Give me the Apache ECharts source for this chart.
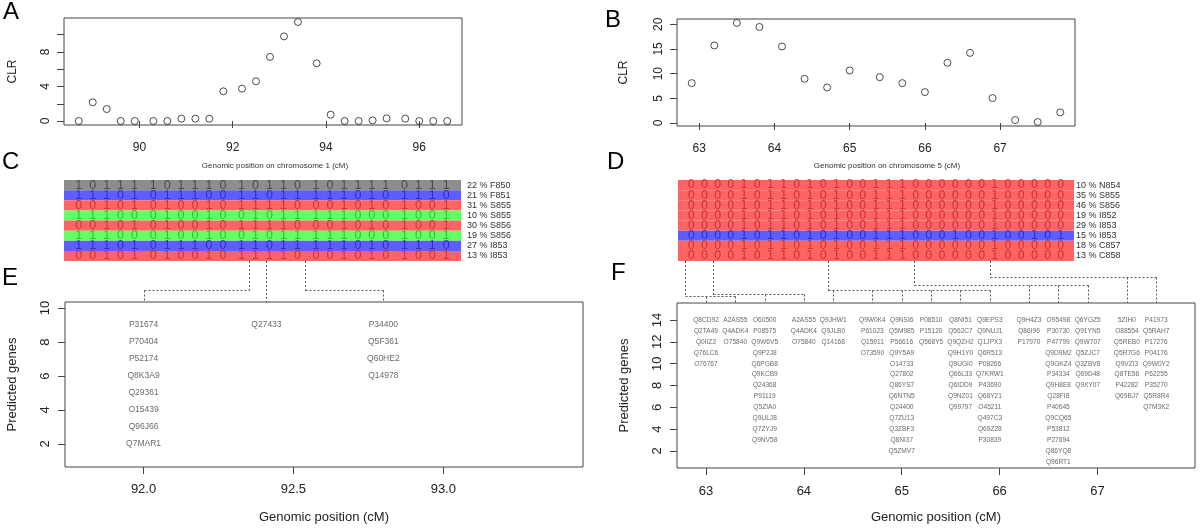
<!DOCTYPE html>
<html>
<head>
<meta charset="utf-8">
<script src="https://cdn.jsdelivr.net/npm/echarts@6/dist/echarts.min.js"></script>
<style>
html,body{margin:0;padding:0;background:#fff;}
#c{width:1200px;height:528px;}
</style>
</head>
<body>
<div id="c"></div>
<script>
// ---------------- data ----------------
const A_POS = [88.7, 89.0, 89.3, 89.6, 89.9, 90.3, 90.6, 90.9, 91.2, 91.5, 91.8, 92.2, 92.5, 92.8, 93.1, 93.4, 93.8, 94.1, 94.4, 94.7, 95.0, 95.3, 95.7, 96.0, 96.3, 96.6];
const A_CLR = [0, 2.17, 1.39, 0, 0, 0, 0, 0.27, 0.27, 0.27, 3.44, 3.75, 4.6, 7.42, 9.8, 11.47, 6.68, 0.73, 0, 0, 0.08, 0.31, 0.27, 0, 0, 0];
const A_XTICKS = [90, 92, 94, 96];
const A_YTICKS = [0, 2, 4, 6, 8, 10];
const A_YLABELS = [0, 4, 8];
const A_TITLE = 'Genomic position on chromosome 1 (cM)';

const B_POS = [62.9, 63.2, 63.5, 63.8, 64.1, 64.4, 64.7, 65.0, 65.4, 65.7, 66.0, 66.3, 66.6, 66.9, 67.2, 67.5, 67.8];
const B_CLR = [8.08, 15.7, 20.26, 19.45, 15.5, 8.95, 7.2, 10.64, 9.29, 8.08, 6.26, 12.2, 14.2, 5.05, 0.6, 0.2, 2.16];
const B_XTICKS = [63, 64, 65, 66, 67];
const B_YTICKS = [0, 5, 10, 15, 20];
const B_TITLE = 'Genomic position on chromosome 5 (cM)';

const C_ROWS = [
  '10111101110101101011110111',
  '11101011100110111110101110',
  '00101010010111100010101001',
  '11100010010010111110001001',
  '00101010010111100010101001',
  '11100010010010111110001001',
  '11101011100110111110101110',
  '00101010010111100010101001'
];
const C_LABELS = ['22 % F850', '21 % F851', '31 % S855', '10 % S855', '30 % S856', '19 % S856', '27 % I853', '13 % I853'];
const C_KEYS = ['grey', 'blue', 'red', 'green', 'red', 'green', 'blue', 'red'];

const D_ROWS = [
  '00001011010100111000000100000',
  '00001011010100111000000100000',
  '00001011010100111000000100000',
  '00001011010100111000000100000',
  '00001011010100111000000100000',
  '00001011010100111000100100101',
  '00001011010100111000000100000',
  '00001011010100111000000100000'
];
const D_LABELS = ['10 % N854', '35 % S855', '46 % S856', '19 % I852', '29 % I853', '15 % I853', '18 % C857', '13 % C858'];
const D_KEYS = ['red', 'red', 'red', 'red', 'red', 'blue', 'red', 'red'];

const E_X = [92.0, 92.41, 92.8];
const E_GENES = [
  ['P31674', 'P70404', 'P52174', 'Q8K3A9', 'Q29361', 'O15439', 'Q96J66', 'Q7MAR1'],
  ['Q27433'],
  ['P34400', 'Q5F361', 'Q60HE2', 'Q14978']
];
const E_TOP = 9;
const E_XTICKS = [92.0, 92.5, 93.0];
const E_YTICKS = [2, 4, 6, 8, 10];

const F_X = [63.0, 63.3, 63.6, 64.0, 64.3, 64.7, 65.0, 65.3, 65.6, 65.9, 66.3, 66.6, 66.9, 67.3, 67.6];
const F_GENES = [
  ['Q8CD92', 'Q2TA49', 'Q0IIZ2', 'Q76LC6', 'O76767'],
  ['A2AS55', 'Q4ADK4', 'O75840'],
  ['O60500', 'P08575', 'Q9W6V5', 'Q9P2J8', 'Q6PGB8', 'Q9KCB9', 'Q24368', 'P91119', 'Q5ZIA0', 'Q9ULJ8', 'Q7ZYJ9', 'Q9NV58'],
  ['A2AS55', 'Q4ADK4', 'O75840'],
  ['Q9JHW1', 'Q9JLB0', 'Q14168'],
  ['Q9W0K4', 'P61023', 'Q15911', 'O73590'],
  ['Q9NSI6', 'Q5M985', 'P56616', 'Q9Y5A9', 'O14733', 'Q27802', 'Q86YS7', 'Q6NTN5', 'Q24400', 'Q7ZU13', 'Q3ZBF3', 'Q8NI37', 'Q5ZMV7'],
  ['P08510', 'P15120', 'Q568Y5'],
  ['Q8NI51', 'Q562C7', 'Q9QZH2', 'Q9H1Y0', 'Q9UGI0', 'Q66L33', 'Q6IDD9', 'Q9NZ01', 'Q99797'],
  ['Q9EPS3', 'Q9NUJ1', 'Q1JPX3', 'Q6R513', 'P08266', 'Q7KRW1', 'P43690', 'Q68Y21', 'O45211', 'Q497C3', 'Q69Z28', 'P30839'],
  ['Q9H4Z3', 'Q86I96', 'P17970'],
  ['O95498', 'P30730', 'P47799', 'Q9D9M2', 'Q9GKZ4', 'P34334', 'Q9H8E8', 'Q28FI8', 'P40645', 'Q9CQ65', 'P53812', 'P27694', 'Q86YQ8', 'Q96RT1'],
  ['Q6YGZ5', 'Q91YN5', 'Q9W707', 'Q5ZJC7', 'Q3ZBV8', 'Q69D48', 'Q9XY07'],
  ['5ZIH0', 'O88554', 'Q5REB0', 'Q5R7G6', 'Q9VZI3', 'Q8TE56', 'P42282', 'Q69BJ7'],
  ['P41973', 'Q5RAH7', 'P17276', 'P04176', 'Q9W0Y2', 'P62255', 'P35270', 'Q5R8R4', 'Q7M3K2']
];
const F_TOP = 14;
const F_XTICKS = [63, 64, 65, 66, 67];
const F_YTICKS = [2, 4, 6, 8, 10, 12, 14];

// connectors: source position on the chromosome axis -> gene columns
const CE_SRC = [92.35, 92.72, 93.55];
const CE_TARGETS = [[92.0], [92.41], [92.8]];
const DF_SRC = [62.81, 63.18, 64.71, 65.85, 66.86];
const DF_TARGETS = [[63.0, 63.3], [63.6, 64.0], [64.3, 64.7, 65.0, 65.3, 65.6, 65.9], [66.3, 66.6, 66.9], [67.3, 67.6]];

// ---------------- style / layout ----------------
const FONT = "'Liberation Sans', Arial, Helvetica, sans-serif";
const NARROW = "'Liberation Sans Narrow', 'DejaVu Sans Condensed', 'Liberation Sans', sans-serif";
const ROW_FILL = {grey: '#8d8d8d', blue: '#5e5eff', red: '#ff6464', green: '#64ff64'};
const DIGIT_COL = {grey: '#3a3a3a', blue: '#2020c8', red: '#c02828', green: '#22b022'};
const AX = '#444';
const CE_LEVEL = [290, null, 290];
const DF_LEVEL = [296, 294, 289.5, 285, 277];

const chart = echarts.init(document.getElementById('c'), null, {renderer: 'canvas'});

function valueAxis(grid, min, max, ticks, labels, opts) {
  opts = opts || {};
  return {
    type: 'value', gridIndex: grid, min: min, max: max,
    axisLine: {show: false},
    splitLine: {show: false},
    axisTick: {show: true, inside: false, length: 7, lineStyle: {color: AX}, customValues: ticks},
    axisLabel: {show: true, customValues: labels || ticks, color: '#222', fontFamily: FONT,
      fontSize: opts.fs || 12, margin: opts.margin || 10, rotate: opts.rotate || 0,
      formatter: opts.fmt},
    nameTextStyle: {fontFamily: FONT, color: '#222', fontSize: opts.nfs || 12},
    name: opts.name || '', nameLocation: 'middle', nameGap: opts.gap || 30
  };
}

function rowRenderer(keys) {
  return function (params, api) {
    const r = api.value(1);
    const cs = params.coordSys;
    const c = api.coord([api.value(0), r]);
    const h = api.size([0, 1])[1];
    return {type: 'rect', shape: {x: cs.x, y: c[1] - h / 2, width: cs.width, height: h},
      style: {fill: ROW_FILL[keys[r]]}};
  };
}

function digitData(rows, keys, xs) {
  const out = [];
  rows.forEach((s, r) => {
    s.split('').forEach((d, i) => {
      out.push({value: [xs[i], r], name: d, label: {color: DIGIT_COL[keys[r]]}});
    });
  });
  return out;
}

function geneData(xs, genes, top) {
  const out = [];
  genes.forEach((col, i) => col.forEach((g, j) => out.push({value: [xs[i], top - j], name: g})));
  return out;
}

const D_COLS = D_ROWS[0].split('').map((_, i) => i + 1);

const gridBox = {show: true, borderColor: AX, borderWidth: 1, backgroundColor: 'transparent'};

const catAxis = (grid, data, margin) => ({type: 'category', gridIndex: grid, data: data, inverse: true, position: 'right',
  axisLine: {show: false}, axisTick: {show: false}, splitLine: {show: false},
  axisLabel: {interval: 0, margin: margin, fontSize: 9, color: '#333', fontFamily: FONT}});

const option = {
  animation: false,
  backgroundColor: '#fff',
  textStyle: {fontFamily: FONT},
  grid: [
    Object.assign({left: 64, top: 18, width: 398, height: 107}, gridBox),
    Object.assign({left: 677, top: 19, width: 398, height: 107}, gridBox),
    {left: 64, top: 180, width: 397, height: 81, show: false},
    {left: 678, top: 180, width: 396, height: 81, show: false},
    Object.assign({left: 65, top: 302, width: 518, height: 165}, gridBox),
    Object.assign({left: 677, top: 303, width: 518, height: 165}, gridBox)
  ],
  xAxis: [
    valueAxis(0, 88.384, 96.916, A_XTICKS, A_XTICKS, {margin: 17}),
    valueAxis(1, 62.704, 67.996, B_XTICKS, B_XTICKS, {margin: 17}),
    {type: 'value', gridIndex: 2, min: 88.384, max: 96.916, show: false},
    {type: 'value', gridIndex: 3, min: 0, max: 30, show: false},
    valueAxis(4, 91.738, 93.466, E_XTICKS, E_XTICKS, {fs: 13, margin: 16, fmt: v => Number(v).toFixed(1), name: 'Genomic position (cM)', gap: 44, nfs: 13}),
    valueAxis(5, 62.704, 67.996, F_XTICKS, F_XTICKS, {fs: 13, margin: 17, name: 'Genomic position (cM)', gap: 43, nfs: 13})
  ],
  yAxis: [
    valueAxis(0, -0.46, 11.93, A_YTICKS, A_YLABELS, {rotate: 90, margin: 12, name: 'CLR', gap: 45}),
    valueAxis(1, -0.6, 21.06, B_YTICKS, B_YTICKS, {rotate: 90, margin: 12, name: 'CLR', gap: 47}),
    catAxis(2, C_LABELS, 6),
    catAxis(3, D_LABELS, 2),
    valueAxis(4, 0.64, 10.36, E_YTICKS, E_YTICKS, {fs: 13, rotate: 90, margin: 13, name: 'Predicted genes', gap: 46, nfs: 13}),
    valueAxis(5, 0.44, 15.56, F_YTICKS, F_YTICKS, {fs: 13, rotate: 90, margin: 13, name: 'Predicted genes', gap: 46, nfs: 13})
  ],
  series: [
    {type: 'scatter', xAxisIndex: 0, yAxisIndex: 0, data: A_POS.map((x, i) => [x, A_CLR[i]]),
      symbol: 'circle', symbolSize: 7, itemStyle: {color: 'rgba(255,255,255,0)', borderColor: '#222', borderWidth: 1}, silent: true},
    {type: 'scatter', xAxisIndex: 1, yAxisIndex: 1, data: B_POS.map((x, i) => [x, B_CLR[i]]),
      symbol: 'circle', symbolSize: 7, itemStyle: {color: 'rgba(255,255,255,0)', borderColor: '#222', borderWidth: 1}, silent: true},
    {type: 'custom', xAxisIndex: 2, yAxisIndex: 2, data: C_ROWS.map((_, r) => [A_POS[0], r]),
      renderItem: rowRenderer(C_KEYS), silent: true, z: 1},
    {type: 'custom', xAxisIndex: 3, yAxisIndex: 3, data: D_ROWS.map((_, r) => [1, r]),
      renderItem: rowRenderer(D_KEYS), silent: true, z: 1},
    {type: 'scatter', xAxisIndex: 2, yAxisIndex: 2, data: digitData(C_ROWS, C_KEYS, A_POS),
      symbolSize: 1, itemStyle: {color: 'rgba(0,0,0,0)'}, silent: true, z: 3,
      label: {show: true, position: 'inside', formatter: '{b}', fontSize: 12.5, fontFamily: FONT}},
    {type: 'scatter', xAxisIndex: 3, yAxisIndex: 3, data: digitData(D_ROWS, D_KEYS, D_COLS),
      symbolSize: 1, itemStyle: {color: 'rgba(0,0,0,0)'}, silent: true, z: 3,
      label: {show: true, position: 'inside', formatter: '{b}', fontSize: 13, fontFamily: NARROW}},
    {type: 'scatter', xAxisIndex: 4, yAxisIndex: 4, data: geneData(E_X, E_GENES, E_TOP),
      symbolSize: 1, itemStyle: {color: 'rgba(0,0,0,0)'}, silent: true,
      label: {show: true, position: 'inside', formatter: '{b}', fontSize: 8.5, color: '#444', fontFamily: FONT}},
    {type: 'scatter', xAxisIndex: 5, yAxisIndex: 5, data: geneData(F_X, F_GENES, F_TOP),
      symbolSize: 1, itemStyle: {color: 'rgba(0,0,0,0)'}, silent: true,
      label: {show: true, position: 'inside', formatter: '{b}', fontSize: 6.6, color: '#444', fontFamily: FONT}}
  ]
};
chart.setOption(option);

// ---------------- connectors, titles & panel letters ----------------
function px(axis, v) { return chart.convertToPixel({xAxisIndex: axis}, v); }
const graphics = [];
const dash = {stroke: '#555', lineWidth: 1, lineDash: [2, 2], fill: null};
function addConnectors(srcAxis, srcs, tgtAxis, tgts, levels, yTop, yBottom) {
  srcs.forEach((s, i) => {
    const sx = Math.round(px(srcAxis, s)) + 0.5;
    const txs = tgts[i].map(t => Math.round(px(tgtAxis, t)) + 0.5);
    const lvl = levels[i];
    if (lvl == null) {
      graphics.push({type: 'polyline', shape: {points: [[sx, yTop], [sx, yBottom - 4], [txs[0], yBottom - 4], [txs[0], yBottom]]}, style: dash, silent: true});
      return;
    }
    const ly = Math.round(lvl) + 0.5;
    graphics.push({type: 'polyline', shape: {points: [[sx, yTop], [sx, ly]]}, style: dash, silent: true});
    const xsAll = txs.concat([sx]);
    graphics.push({type: 'polyline', shape: {points: [[Math.min.apply(null, xsAll), ly], [Math.max.apply(null, xsAll), ly]]}, style: dash, silent: true});
    txs.forEach(tx => graphics.push({type: 'polyline', shape: {points: [[tx, ly], [tx, yBottom]]}, style: dash, silent: true}));
  });
}
addConnectors(0, CE_SRC, 4, CE_TARGETS, CE_LEVEL, 261, 302);
addConnectors(1, DF_SRC, 5, DF_TARGETS, DF_LEVEL, 261, 303);

[[A_TITLE, 275, 166], [B_TITLE, 887, 166]].forEach(t => graphics.push({type: 'text', x: t[1], y: t[2], silent: true,
  style: {text: t[0], fontSize: 8, fontFamily: FONT, fill: '#333', align: 'center', verticalAlign: 'middle'}}));

const LETTERS = [['A', 3, 0], ['B', 605, 8], ['C', 2, 150], ['D', 607, 150], ['E', 2, 266], ['F', 611, 261]];
LETTERS.forEach(l => graphics.push({type: 'text', left: l[1], top: l[2], silent: true,
  style: {text: l[0], fontSize: 24, fontFamily: FONT, fill: '#000'}}));

chart.setOption({graphic: graphics});
</script>
</body>
</html>
